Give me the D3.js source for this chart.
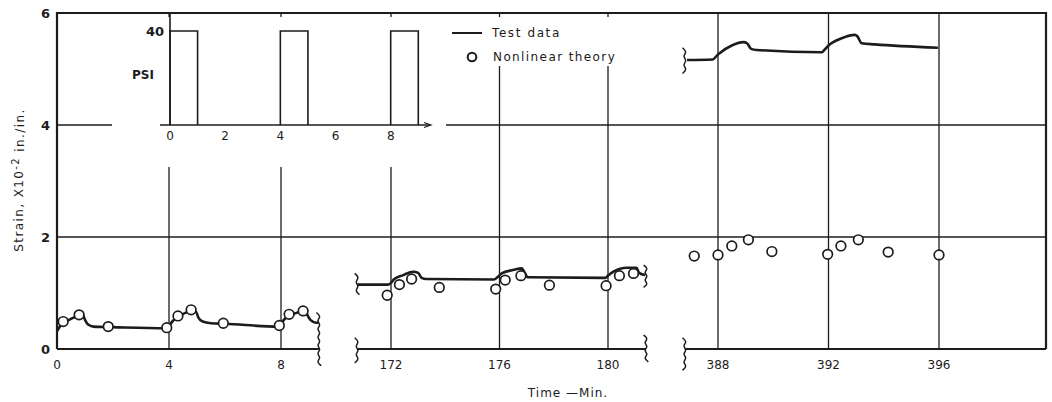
<!DOCTYPE html>
<html>
<head>
<meta charset="utf-8">
<script src="https://cdn.jsdelivr.net/npm/d3@7/dist/d3.min.js"></script>
<style>
  html, body { margin: 0; padding: 0; background: #fff; }
  svg { display: block; }
  text { font-family: "DejaVu Sans", sans-serif; fill: #1c1c1c; }
</style>
</head>
<body>
<svg id="chart" width="1052" height="402"></svg>
<script>
// ---- Data -------------------------------------------------------------
// Strain values are in units of 1e-2 in./in.; time in minutes.

// Segment 1: 0 - 9 min
const testTime1   = [0, 0.1, 0.3, 0.55, 0.8, 0.92, 1.0, 1.1, 1.3, 2, 3.9, 4.0, 4.1, 4.35, 4.6, 4.85, 4.97, 5.05, 5.2, 5.5, 6, 7.9, 8.0, 8.1, 8.35, 8.65, 8.88, 8.95, 9.05, 9.25, 9.33];
const testStrain1 = [0.32, 0.40, 0.48, 0.55, 0.60, 0.61, 0.52, 0.44, 0.40, 0.39, 0.37, 0.40, 0.48, 0.58, 0.65, 0.68, 0.66, 0.56, 0.49, 0.46, 0.45, 0.40, 0.43, 0.52, 0.60, 0.66, 0.68, 0.60, 0.52, 0.47, 0.47];
const theoryTime1   = [0.22, 0.79, 1.83, 3.92, 4.32, 4.79, 5.94, 7.94, 8.29, 8.79];
const theoryStrain1 = [0.49, 0.61, 0.40, 0.38, 0.59, 0.70, 0.46, 0.42, 0.62, 0.68];

// Segment 2: 171 - 181 min
const testTime2   = [170.76, 171.9, 172.0, 172.1, 172.45, 172.82, 173.0, 173.13, 173.3, 175.8, 175.92, 176.08, 176.5, 176.82, 176.92, 177.05, 179.9, 180.0, 180.2, 180.7, 181.05, 181.15, 181.37];
const testStrain2 = [1.15, 1.15, 1.18, 1.24, 1.32, 1.38, 1.36, 1.27, 1.25, 1.24, 1.28, 1.35, 1.41, 1.44, 1.37, 1.28, 1.27, 1.31, 1.38, 1.45, 1.45, 1.36, 1.32];
const theoryTime2   = [171.86, 172.31, 172.76, 173.78, 175.86, 176.21, 176.79, 177.84, 179.93, 180.42, 180.94];
const theoryStrain2 = [0.96, 1.15, 1.25, 1.10, 1.07, 1.23, 1.31, 1.14, 1.13, 1.31, 1.35];

// Segment 3: 387 - 396 min
const testTime3   = [386.88, 387.8, 388.02, 388.5, 388.92, 389.05, 389.2, 389.4, 391.75, 391.85, 392.0, 392.48, 392.96, 393.05, 393.2, 393.68, 395.96];
const testStrain3 = [5.16, 5.17, 5.27, 5.42, 5.48, 5.46, 5.36, 5.34, 5.30, 5.34, 5.42, 5.55, 5.61, 5.58, 5.46, 5.44, 5.38];
const theoryTime3   = [387.14, 388.0, 388.5, 389.1, 389.95, 391.97, 392.45, 393.08, 394.16, 396.0];
const theoryStrain3 = [1.66, 1.68, 1.84, 1.95, 1.74, 1.69, 1.84, 1.95, 1.73, 1.68];

// Axis ticks
const strainTicks = [0, 2, 4, 6];
const timeTicks1 = [0, 4, 8];
const timeTicks2 = [172, 176, 180];
const timeTicks3 = [388, 392, 396];
const timeSpan1 = [0, 9.35];
const timeSpan2 = [170.75, 181.4];
const timeSpan3 = [386.8, 399.9];

// Loading history (inset)
const pulseStart = [0, 4, 8];
const pulseLength = 1;
const pulsePressure = 40;
const insetTimeTicks = [0, 2, 4, 6, 8];

// ---- Layout -----------------------------------------------------------
const svg = d3.select("#chart");
const ink = "#1c1c1c";
const frame = { left: 57, top: 13, right: 1046, bottom: 349 };

const y = d3.scaleLinear().domain([0, 6]).range([frame.bottom, frame.top]);

const panels = [
  { ticks: timeTicks1, span: timeSpan1, range: [57, 281],  t: testTime1, s: testStrain1, ct: theoryTime1, cs: theoryStrain1 },
  { ticks: timeTicks2, span: timeSpan2, range: [391, 608], t: testTime2, s: testStrain2, ct: theoryTime2, cs: theoryStrain2 },
  { ticks: timeTicks3, span: timeSpan3, range: [718, 939], t: testTime3, s: testStrain3, ct: theoryTime3, cs: theoryStrain3 }
];
panels.forEach(p => {
  p.x = d3.scaleLinear().domain([p.ticks[0], p.ticks[p.ticks.length - 1]]).range(p.range);
});

// ---- Grid -------------------------------------------------------------
const grid = svg.append("g").attr("stroke", ink).attr("stroke-width", 1.3);
[2, 4].forEach(v => {
  grid.append("line").attr("x1", frame.left).attr("x2", frame.right)
    .attr("y1", y(v)).attr("y2", y(v));
});
panels.forEach(p => {
  p.ticks.forEach(t => {
    grid.append("line").attr("x1", p.x(t)).attr("x2", p.x(t))
      .attr("y1", frame.top).attr("y2", frame.bottom);
  });
});

// Blank areas behind the inset and the legend
svg.append("rect").attr("x", 112).attr("y", 17).attr("width", 334).attr("height", 150).attr("fill", "#fff");
svg.append("rect").attr("x", 446).attr("y", 17).attr("width", 180).attr("height", 49).attr("fill", "#fff");

// ---- Frame ------------------------------------------------------------
const fr = svg.append("g").attr("stroke", ink).attr("stroke-width", 2.2).attr("fill", "none");
fr.append("path").attr("d",
  `M${frame.left},${frame.bottom} V${frame.top} H${frame.right} V${frame.bottom}`);
panels.forEach(p => {
  fr.append("line").attr("x1", p.x(p.span[0])).attr("x2", Math.min(p.x(p.span[1]), frame.right))
    .attr("y1", y(0)).attr("y2", y(0));
});

// Break marks (wavy vertical strokes)
function squiggle(xc, y1, y2) {
  const pts = [];
  const n = Math.max(4, Math.round(Math.abs(y2 - y1) / 4));
  for (let i = 0; i <= n; i++) {
    pts.push([xc + (i % 2 === 0 ? -2.4 : 2.4), y1 + (y2 - y1) * i / n]);
  }
  return d3.line().curve(d3.curveBasis)(pts);
}
const breaks = [
  { p: 0, t: timeSpan1[1], s: [-0.3, 0.65] },
  { p: 1, t: timeSpan2[0], s: [0.97, 1.35] },
  { p: 1, t: timeSpan2[0], s: [-0.25, 0.2] },
  { p: 1, t: timeSpan2[1], s: [1.1, 1.5] },
  { p: 1, t: timeSpan2[1], s: [-0.23, 0.25] },
  { p: 2, t: timeSpan3[0], s: [-0.38, 0.2] },
  { p: 2, t: timeSpan3[0], s: [4.92, 5.38] }
];
svg.append("g").attr("stroke", ink).attr("stroke-width", 1.5).attr("fill", "none")
  .selectAll("path").data(breaks).join("path")
  .attr("d", b => squiggle(panels[b.p].x(b.t), y(b.s[1]), y(b.s[0])));

// ---- Tick labels --------------------------------------------------------
svg.append("g").selectAll("text").data(strainTicks).join("text")
  .attr("x", 50).attr("y", d => y(d)).attr("dy", "0.36em")
  .attr("text-anchor", "end").attr("font-size", 13).attr("font-weight", "bold")
  .text(d => d);

panels.forEach(p => {
  svg.append("g").selectAll("text").data(p.ticks).join("text")
    .attr("x", d => p.x(d)).attr("y", y(0) + 16).attr("dy", "0.36em")
    .attr("text-anchor", "middle").attr("font-size", 12)
    .text(d => d);
});

// Axis titles
svg.append("text")
  .attr("x", 568).attr("y", 393).attr("dy", "0.36em")
  .attr("text-anchor", "middle").attr("font-size", 12).attr("letter-spacing", 1)
  .text("Time —Min.");

const yTitle = svg.append("text")
  .attr("transform", "translate(19,180) rotate(-90)")
  .attr("text-anchor", "middle").attr("dy", "0.36em")
  .attr("font-size", 12).attr("letter-spacing", 1.4);
yTitle.append("tspan").text("Strain,  X10");
yTitle.append("tspan").attr("dy", "-0.45em").attr("font-size", 10).text("-2");
yTitle.append("tspan").attr("dy", "0.45em").text("  in./in.");

// ---- Data marks ---------------------------------------------------------
panels.forEach(p => {
  const pts = p.t.map((t, i) => [p.x(t), y(p.s[i])]);
  svg.append("path")
    .attr("d", d3.line().curve(d3.curveMonotoneX)(pts))
    .attr("fill", "none").attr("stroke", ink).attr("stroke-width", 2.6)
    .attr("stroke-linejoin", "round");
  svg.append("g").selectAll("circle").data(p.ct).join("circle")
    .attr("cx", d => p.x(d)).attr("cy", (d, i) => y(p.cs[i])).attr("r", 4.8)
    .attr("fill", "#fff").attr("stroke", ink).attr("stroke-width", 1.7);
});

// ---- Inset: loading history ---------------------------------------------
const ix = d3.scaleLinear().domain([0, 8]).range([170, 390.7]);
const iy = d3.scaleLinear().domain([0, pulsePressure]).range([y(4), 31]);
const inset = svg.append("g");
inset.append("line").attr("x1", ix(0)).attr("x2", ix(0)).attr("y1", iy(0)).attr("y2", frame.top)
  .attr("stroke", ink).attr("stroke-width", 1.6);
inset.append("line").attr("x1", 160).attr("x2", 430).attr("y1", iy(0)).attr("y2", iy(0))
  .attr("stroke", ink).attr("stroke-width", 1.6);
inset.append("path").attr("d", `M424,${iy(0) - 2.5} L431,${iy(0)} L424,${iy(0) + 2.5}`)
  .attr("fill", "none").attr("stroke", ink).attr("stroke-width", 1.2);
inset.append("g").attr("fill", "none").attr("stroke", ink).attr("stroke-width", 1.6)
  .selectAll("path").data(pulseStart).join("path")
  .attr("d", s => `M${ix(s)},${iy(0)} V${iy(pulsePressure)} H${ix(s + pulseLength)} V${iy(0)}`);
inset.append("g").selectAll("text").data(insetTimeTicks).join("text")
  .attr("x", d => ix(d)).attr("y", iy(0) + 11).attr("dy", "0.36em")
  .attr("text-anchor", "middle").attr("font-size", 12)
  .text(d => d);
inset.append("text").attr("x", 164).attr("y", iy(pulsePressure)).attr("dy", "0.36em")
  .attr("text-anchor", "end").attr("font-size", 13).attr("font-weight", "bold")
  .text(pulsePressure);
inset.append("text").attr("x", 143).attr("y", 75).attr("dy", "0.36em")
  .attr("text-anchor", "middle").attr("font-size", 12).attr("font-weight", "bold")
  .text("PSI");

// ---- Legend -------------------------------------------------------------
const lg = svg.append("g");
lg.append("line").attr("x1", 452).attr("x2", 482).attr("y1", 33).attr("y2", 33)
  .attr("stroke", ink).attr("stroke-width", 2);
lg.append("text").attr("x", 492).attr("y", 33).attr("dy", "0.36em")
  .attr("font-size", 12).attr("letter-spacing", 1.6).text("Test data");
lg.append("circle").attr("cx", 472).attr("cy", 57).attr("r", 4.3)
  .attr("fill", "#fff").attr("stroke", ink).attr("stroke-width", 2);
lg.append("text").attr("x", 493).attr("y", 57).attr("dy", "0.36em")
  .attr("font-size", 12).attr("letter-spacing", 1.4).text("Nonlinear theory");
</script>
</body>
</html>
